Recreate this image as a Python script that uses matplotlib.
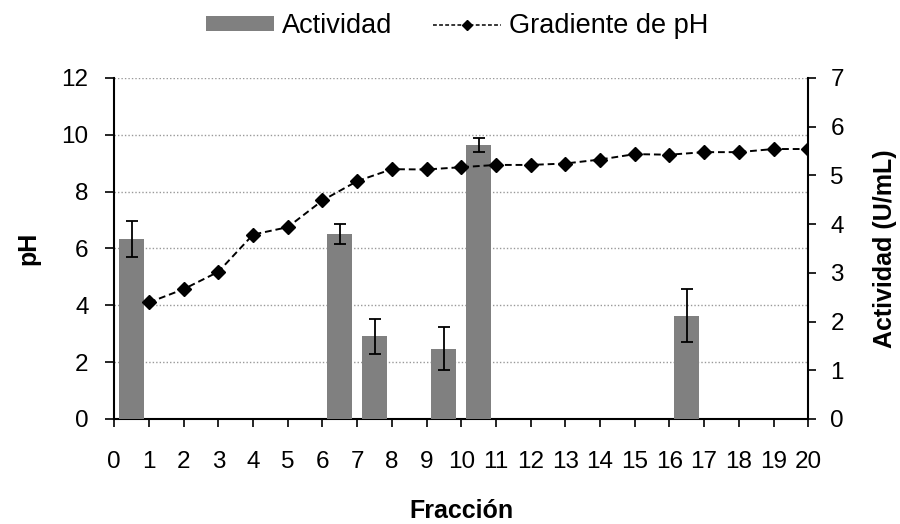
import numpy as np
import matplotlib.pyplot as plt
from matplotlib.lines import Line2D
from matplotlib.patches import Patch

plt.rcParams['font.family'] = ['Liberation Sans', 'DejaVu Sans']

# pH gradient per fraction
fraccion = list(range(1, 21))
ph = [4.10, 4.57, 5.18, 6.49, 6.75, 7.69, 8.37, 8.79, 8.78, 8.86,
      8.94, 8.94, 8.99, 9.13, 9.32, 9.30, 9.39, 9.39, 9.50, 9.50]

# enzymatic activity (U/mL) in the fractions where it was detected
act_frac = [0.5, 6.5, 7.5, 9.5, 10.5, 16.5]
actividad = [3.70, 3.80, 1.70, 1.44, 5.62, 2.12]
act_err = [0.37, 0.20, 0.36, 0.44, 0.14, 0.54]

fig = plt.figure(figsize=(9, 5.24), dpi=100)
ax = fig.add_axes([0.127, 0.2004, 0.771, 0.6508])

# pH axis (left) with the dotted grid
ax.set_xlim(0, 20)
ax.set_ylim(0, 12)
ax.set_yticks(range(0, 13, 2))
ax.set_xticks(range(0, 21))
ax.yaxis.grid(True, linestyle=(0, (1, 1.5)), color='#999999', linewidth=1.0)
ax.set_axisbelow(True)
for s in ['top', 'right']:
    ax.spines[s].set_visible(False)
ax.spines['left'].set_linewidth(1.5)
ax.spines['bottom'].set_linewidth(1.5)
ax.tick_params(axis='y', length=6.5, width=1.2, pad=12, labelsize=17.5)
ax.tick_params(axis='x', length=6, width=1.2, pad=17, labelsize=17.5)
ax.set_ylabel('pH', fontsize=18, fontweight='bold', labelpad=15)
ax.set_xlabel('Fracción', fontsize=18, fontweight='bold', labelpad=19)

# activity bars (right axis)
axr = ax.twinx()
axr.set_ylim(0, 7)
axr.set_yticks(range(0, 8))
axr.bar(act_frac, actividad, width=0.72, color='#808080', zorder=2)
axr.errorbar(act_frac, actividad, yerr=act_err, fmt='none', ecolor='black',
             elinewidth=1.3, capsize=4, capthick=1.3, zorder=3)
for s in ['top', 'left', 'bottom']:
    axr.spines[s].set_visible(False)
axr.spines['right'].set_linewidth(1.5)
axr.tick_params(axis='y', length=6, width=1.2, pad=10, labelsize=17.5)
axr.set_ylabel('Actividad (U/mL)', fontsize=18, fontweight='bold', labelpad=21)

# pH line on top of the bars
axl = ax.twinx()
axl.set_ylim(0, 12)
axl.set_xlim(0, 20)
axl.axis('off')
axl.plot(fraccion, ph, linestyle='--', color='black', linewidth=1.4,
         marker='D', markersize=7, dashes=(3.5, 2))

handles = [Patch(facecolor='#808080', edgecolor='none'),
           Line2D([], [], linestyle='--', color='black', linewidth=1.1,
                  marker='D', markersize=5, dashes=(2.5, 1.5))]
fig.legend(handles, ['Actividad', 'Gradiente de pH'], loc='center',
           bbox_to_anchor=(0.508, 0.95), ncol=2, frameon=False, fontsize=19.5,
           handlelength=2.5, handleheight=0.5, handletextpad=0.3,
           columnspacing=1.5)

fig.savefig('out.png', dpi=100)
